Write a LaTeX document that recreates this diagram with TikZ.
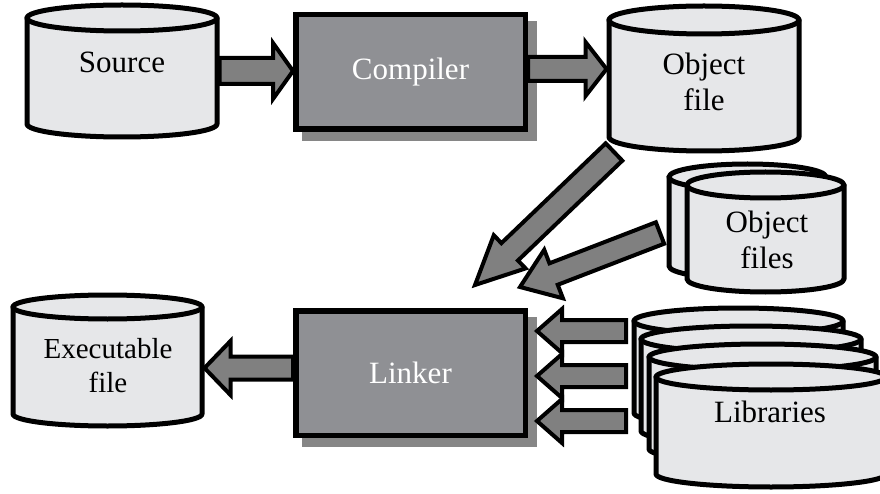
\documentclass[tikz,border=0pt]{standalone}
\usepackage{fontspec}
\setmainfont{Liberation Serif}
\usetikzlibrary{calc}
\pgfdeclarelayer{background}
\pgfdeclarelayer{shade}
\pgfsetlayers{background,shade,main}

\definecolor{drumfill}{RGB}{230,231,233}
\definecolor{boxfill}{RGB}{143,144,148}
\definecolor{shadowgray}{RGB}{134,134,134}
\definecolor{arrowgray}{RGB}{128,128,128}

\tikzset{
  x=1pt, y=1pt,
  drum/.style={fill=drumfill, draw=black, line width=5pt, line join=round},
  drum edge/.style={draw=black, line width=5pt, line cap=round},
  procbox/.style={rectangle, draw=black, line width=5.5pt, fill=boxfill,
    inner sep=0pt, text=white, font=\fontsize{31}{36}\selectfont},
  caption/.style={inner sep=0pt, align=center, font=\fontsize{31}{36}\selectfont},
  block arrow/.style={fill=arrowgray, draw=black, line width=4pt, line join=miter},
}

% cylinder: name, left x, right x, top y, bottom y, ellipse half-height (y downwards)
\newcommand\drum[6]{%
  \pgfmathsetmacro\drumrx{(#3-#2)/2}%
  \pgfmathsetmacro\drumcx{(#2+#3)/2}%
  \pgfmathsetmacro\drumyt{-(#4)-(#6)}%
  \pgfmathsetmacro\drumyb{-(#5)+(#6)}%
  \pgfmathsetmacro\drumw{#3-#2+5}%
  \pgfmathsetmacro\drumh{#5-#4+5}%
  \path[drum] (#2,\drumyt) -- (#2,\drumyb)
    arc[start angle=180, end angle=360, x radius=\drumrx, y radius=#6]
    -- (#3,\drumyt)
    arc[start angle=0, end angle=180, x radius=\drumrx, y radius=#6] -- cycle;
  \draw[drum edge] (#2,\drumyt)
    arc[start angle=180, end angle=360, x radius=\drumrx, y radius=#6];
  \node[inner sep=0pt, outer sep=0pt, minimum width=\drumw pt,
        minimum height=\drumh pt] (#1) at (\drumcx,{-(#4+#5)/2}) {};
}

% block arrow: body half width, head half width, head length, tail, tip
\newcommand\fatarrow[5]{%
  \coordinate (fa-base) at ($(#5)!#3!(#4)$);
  \draw[block arrow]
    ($(#4)!#1!90:(#5)$) -- ($(fa-base)!#1!90:(#5)$) -- ($(fa-base)!#2!90:(#5)$)
    -- (#5)
    -- ($(fa-base)!#2!-90:(#5)$) -- ($(fa-base)!#1!-90:(#5)$) -- ($(#4)!#1!-90:(#5)$)
    -- cycle;
}

\begin{document}
\begin{tikzpicture}
\useasboundingbox (0,0) rectangle (880,-494);
\begin{pgfonlayer}{background}
  \fill[white] (0,0) rectangle (880,-494);
\end{pgfonlayer}
\clip (0,0) rectangle (880,-494);

% storage drums
\drum{src}{27}{217}{5}{137}{13}
\drum{obj}{609}{799}{6}{151}{14}
\drum{exe}{13}{202}{295}{426}{12}
\drum{objsb}{669}{826}{164}{279}{13}
\drum{objs}{687}{844}{172}{292}{13}
\drum{libA}{634}{843}{308}{426}{13}
\drum{libB}{641}{861}{326}{444}{13}
\drum{libC}{649}{876}{344}{462}{13}
\drum{lib}{656}{886}{364}{487}{13}

\node[caption] (src-t) at (122,-62) {Source};
\node[caption] (obj-t) at (704,-82) {Object\\file};
\node[caption] (objs-t) at (767,-240) {Object\\files};
\node[caption, font=\fontsize{29}{34}\selectfont] (exe-t) at (108,-366) {Executable\\file};
\node[caption] (lib-t) at (770,-412) {Libraries};

% processing steps
\node[procbox, minimum width=229.5pt, minimum height=114.5pt] (comp) at (410.5,-72) {Compiler};
\node[procbox, minimum width=229.5pt, minimum height=124.5pt] (link) at (410.5,-373) {Linker};
\begin{pgfonlayer}{shade}
  \fill[shadowgray] ([shift={(9,-9)}]comp.south west) rectangle ([shift={(9,-9)}]comp.north east);
  \fill[shadowgray] ([shift={(9,-9)}]link.south west) rectangle ([shift={(9,-9)}]link.north east);
\end{pgfonlayer}

% arrow end points
\coordinate (s-out) at (src.east |- 0,-71);
\coordinate (c-in) at (comp.west |- 0,-71);
\coordinate (c-out) at (comp.east |- 0,-69);
\coordinate (o-in) at (obj.west |- 0,-69);
\coordinate (o-out) at (614,-152);
\coordinate (l-in1) at (475,-285);
\coordinate (os-out) at (660,-233);
\coordinate (l-in2) at (520,-287);
\coordinate (l-out) at (link.west |- 0,-368);
\coordinate (e-in) at (exe.east |- 0,-368);
\coordinate (lib-out1) at (626,-331);
\coordinate (lib-out2) at (626,-376);
\coordinate (lib-out3) at (626,-421);
\coordinate (l-lib1) at (537,-331);
\coordinate (l-lib2) at (537,-376);
\coordinate (l-lib3) at (537,-421);

% data flow
\fatarrow{13pt}{28pt}{20pt}{s-out}{c-in}
\fatarrow{12pt}{27pt}{21pt}{c-out}{o-in}
\fatarrow{12pt}{23pt}{48pt}{o-out}{l-in1}
\fatarrow{11.5pt}{26pt}{36pt}{os-out}{l-in2}
\fatarrow{11pt}{22pt}{25pt}{lib-out1}{l-lib1}
\fatarrow{11pt}{22pt}{25pt}{lib-out2}{l-lib2}
\fatarrow{11pt}{22pt}{25pt}{lib-out3}{l-lib3}
\fatarrow{11.5pt}{27pt}{26pt}{l-out}{e-in}
\end{tikzpicture}
\end{document}
